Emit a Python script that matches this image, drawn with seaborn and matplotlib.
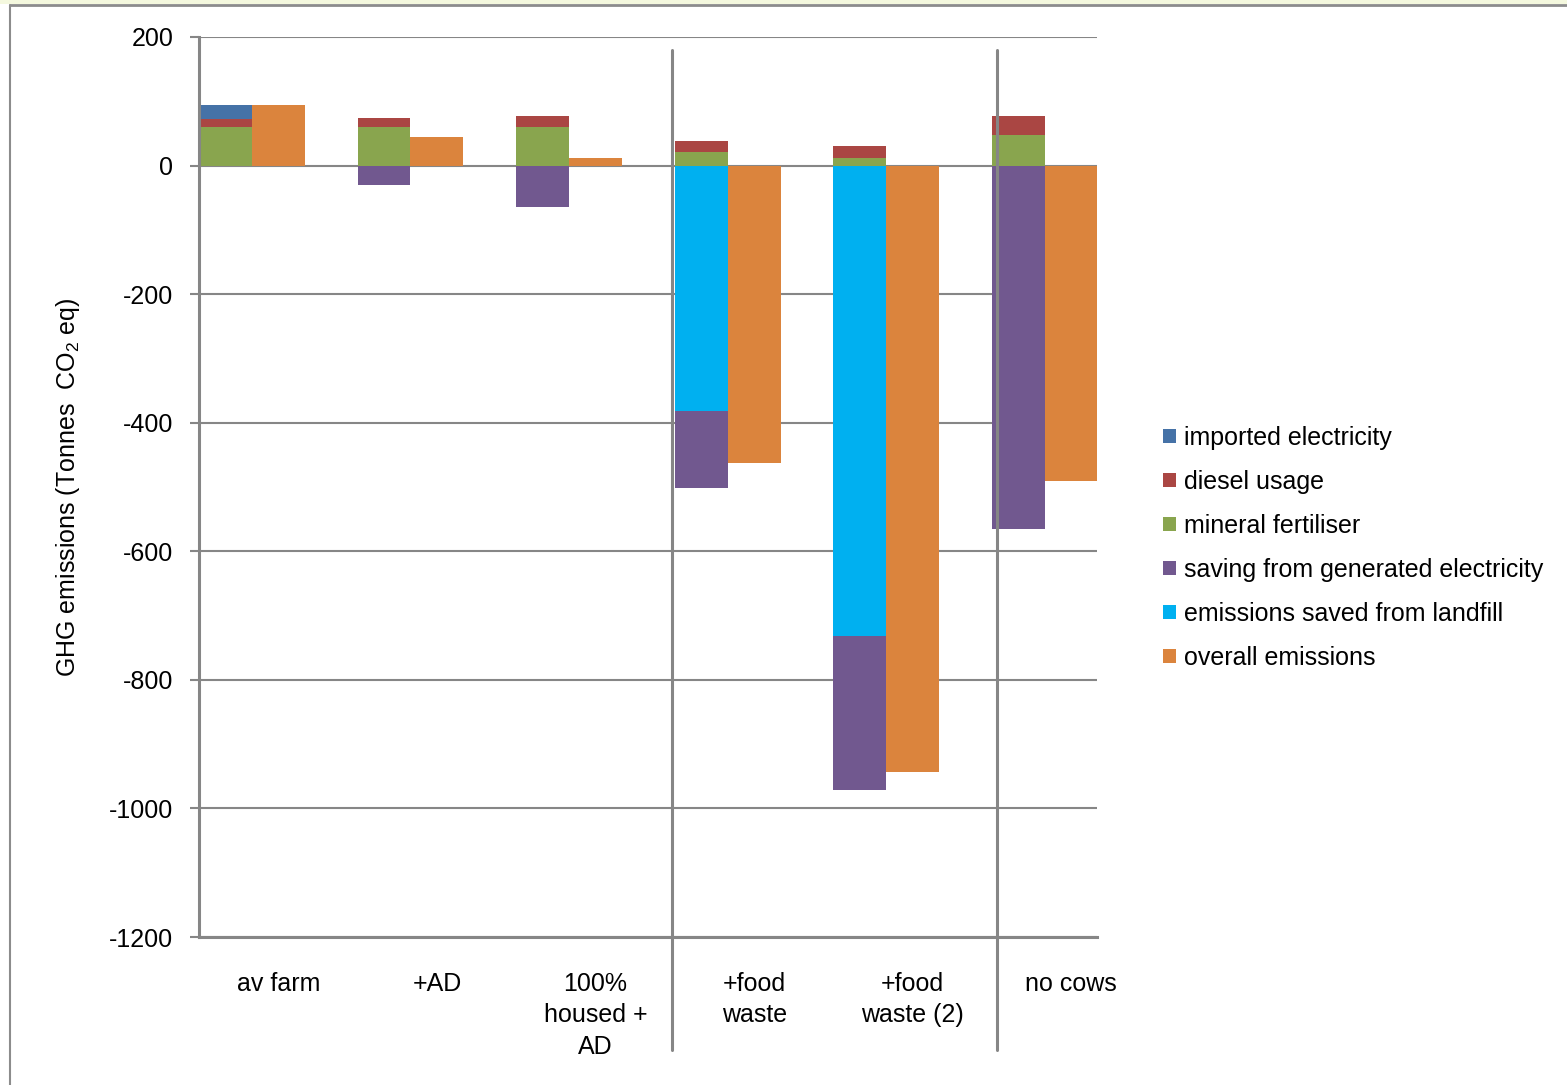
import matplotlib
matplotlib.use("Agg")
import matplotlib.pyplot as plt
from matplotlib.patches import Patch, Rectangle
from matplotlib.lines import Line2D
import numpy as np
import seaborn as sns

categories = ["av farm", "+AD", "100%\nhoused +\nAD", "+food\nwaste", "+food\nwaste (2)", "no cows"]
imported_electricity = [23, 0, 0, 0, 0, 0]
diesel_usage = [12, 14, 17, 17, 19, 29]
mineral_fertiliser = [60, 60, 60, 21, 12, 48]
saving_generated_electricity = [0, -30, -65, -120, -241, -565]
emissions_saved_landfill = [0, 0, 0, -381, -731, 0]
overall_emissions = [95, 44, 12, -462, -943, -491]
y_ticks = [200, 0, -200, -400, -600, -800, -1000, -1200]

colors = {
    "imported electricity": "#4572A7",
    "diesel usage": "#AA4643",
    "mineral fertiliser": "#89A54E",
    "saving from generated electricity": "#71588F",
    "emissions saved from landfill": "#00B0F0",
    "overall emissions": "#DB843D",
}

sns.set_theme(style="white")
plt.rcParams["font.family"] = ["Liberation Sans", "DejaVu Sans"]
plt.rcParams["mathtext.fontset"] = "custom"
plt.rcParams["mathtext.rm"] = "Liberation Sans"
plt.rcParams["mathtext.it"] = "Liberation Sans"
plt.rcParams["mathtext.default"] = "regular"
plt.rcParams["text.color"] = "black"
plt.rcParams["axes.labelcolor"] = "black"
plt.rcParams["xtick.color"] = "black"
plt.rcParams["ytick.color"] = "black"

FS = 18
grey = "#868686"
fig = plt.figure(figsize=(15.67, 10.85), dpi=100)
ax = fig.add_axes([199 / 1567, 1 - 937 / 1085, (1097 - 199) / 1567, (937 - 37) / 1085])

x = np.arange(len(categories))
w = 1 / 3
bar_kw = dict(width=w, align="edge", linewidth=0, zorder=3)

# horizontal gridlines
ax.set_axisbelow(True)
ax.yaxis.grid(True, color=grey, linewidth=1.5)
ax.xaxis.grid(False)

# stacked positive components
fert = np.array(mineral_fertiliser)
dies = np.array(diesel_usage)
imp = np.array(imported_electricity)
ax.bar(x, fert, color=colors["mineral fertiliser"], **bar_kw)
ax.bar(x, dies, bottom=fert, color=colors["diesel usage"], **bar_kw)
ax.bar(x, imp, bottom=fert + dies, color=colors["imported electricity"], **bar_kw)

# stacked negative components
land = np.array(emissions_saved_landfill)
sav = np.array(saving_generated_electricity)
ax.bar(x, land, color=colors["emissions saved from landfill"], **bar_kw)
ax.bar(x, sav, bottom=land, color=colors["saving from generated electricity"], **bar_kw)

# overall emissions next to each stack
ax.bar(x + w, overall_emissions, color=colors["overall emissions"], **bar_kw)

ax.set_xlim(0, (1097 - 199) / 158.6)
ax.set_ylim(-1200, 200)
ax.set_yticks(y_ticks)
ax.set_yticklabels([str(v) for v in y_ticks], fontsize=FS)
ax.set_xticks(x + 0.5)
ax.set_xticklabels(categories, fontsize=FS, linespacing=1.4, va="top")
ax.tick_params(axis="x", length=0, pad=25, labelcolor="black")
ax.tick_params(axis="y", direction="out", length=6.5, width=1.5, color=grey, pad=12,
               left=True, labelcolor="black")

for side in ["top", "right"]:
    ax.spines[side].set_visible(False)
for side in ["left", "bottom"]:
    ax.spines[side].set_color(grey)
    ax.spines[side].set_linewidth(2.2)
    ax.spines[side].set_zorder(4)

ax.set_ylabel("GHG emissions (Tonnes  CO$_2$ eq)", fontsize=FS, color="black")
ax.yaxis.set_label_coords(-0.130, 0.5, transform=ax.transAxes)

# separators between scenario groups
for sx in [(672 - 199) / 158.6, (997 - 199) / 158.6]:
    ax.plot([sx, sx], [180, -1375], color=grey, linewidth=2.2, clip_on=False, zorder=5)

# legend
order = ["imported electricity", "diesel usage", "mineral fertiliser",
         "saving from generated electricity", "emissions saved from landfill", "overall emissions"]
handles = [Patch(facecolor=colors[k], edgecolor="none") for k in order]
fig.legend(handles, order, loc="center left", bbox_to_anchor=(1163 / 1567, 1 - 548 / 1085),
           frameon=False, fontsize=FS, handlelength=0.5, handleheight=0.5,
           handletextpad=0.32, labelspacing=0.8, borderaxespad=0, borderpad=0,
           labelcolor="black")

# chart frame
fig.add_artist(Rectangle((0, 1 - 4 / 1085), 1, 4 / 1085, transform=fig.transFigure,
                         facecolor="#f4f8de", edgecolor="none"))
fig.add_artist(Line2D([10 / 1567, 1], [1 - 5 / 1085, 1 - 5 / 1085], transform=fig.transFigure,
                      color="#8c8c8c", linewidth=2))
fig.add_artist(Line2D([10 / 1567, 10 / 1567], [0, 1 - 5 / 1085], transform=fig.transFigure,
                      color="#8c8c8c", linewidth=1.5))

fig.savefig("out.png", dpi=100)
